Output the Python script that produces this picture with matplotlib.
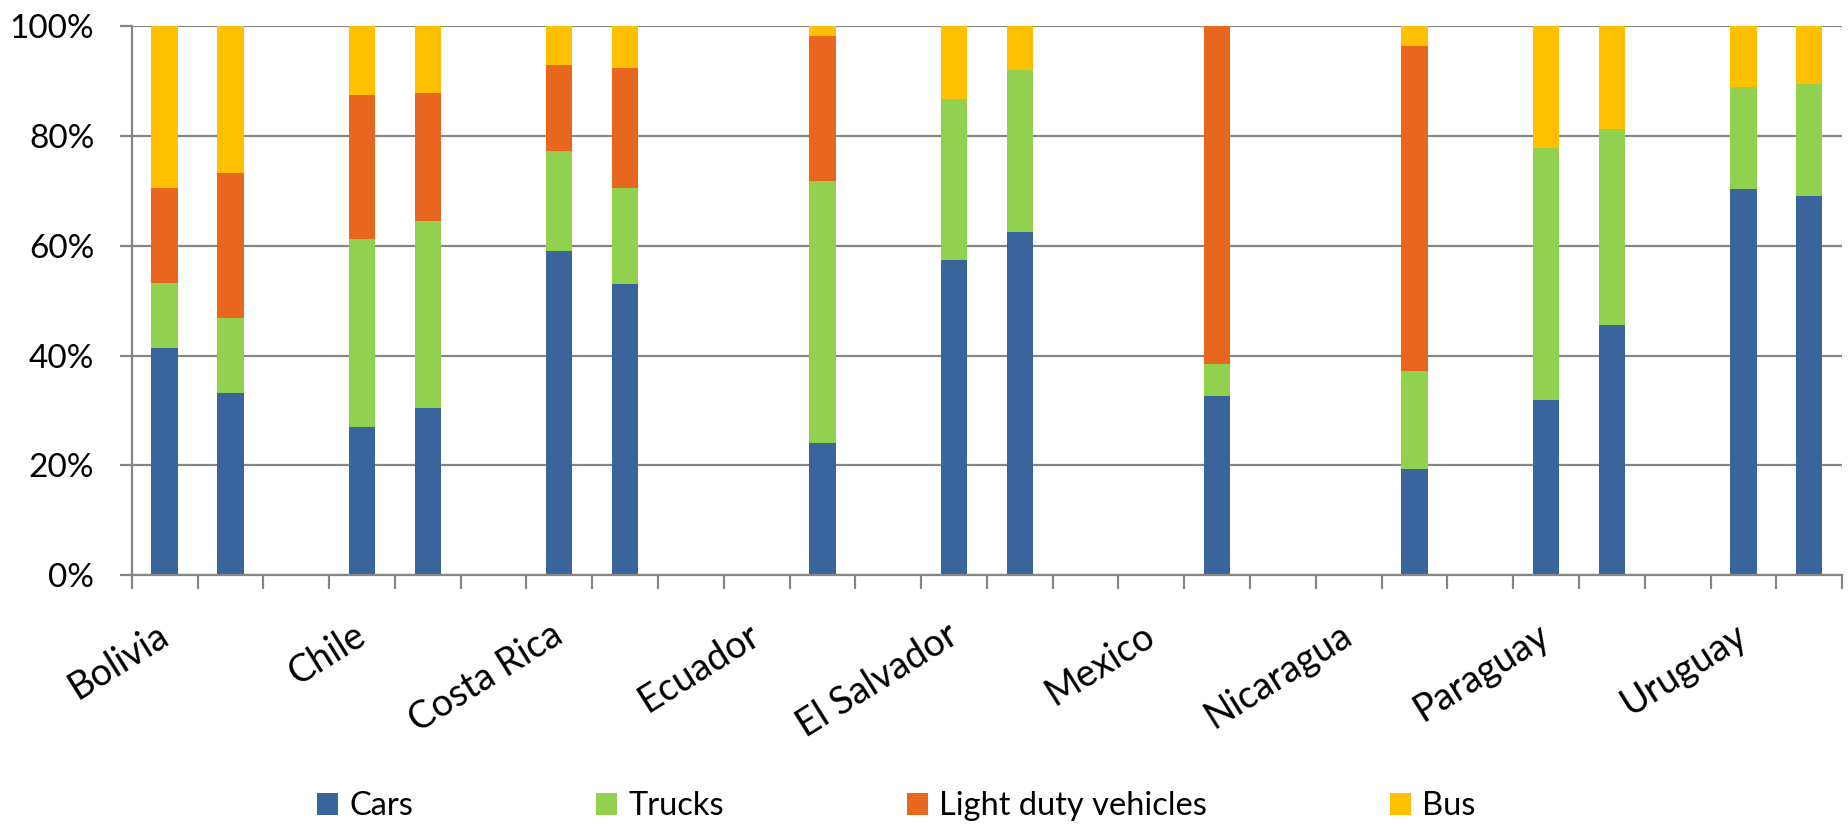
import numpy as np
import matplotlib
matplotlib.use("Agg")
import matplotlib.pyplot as plt
from matplotlib.ticker import FuncFormatter, FixedLocator
from matplotlib.transforms import ScaledTranslation

plt.rcParams['font.family'] = ['Lato', 'DejaVu Sans']

countries = ["Bolivia", "Chile", "Costa Rica", "Ecuador", "El Salvador",
             "Mexico", "Nicaragua", "Paraguay", "Uruguay"]
series_names = ["Cars", "Trucks", "Light duty vehicles", "Bus"]

# share of fleet (%) for two periods per country; None = no data
cars = [[41.3, 33.2], [27.0, 30.5], [59.0, 53.1], [None, 24.1], [57.5, 62.6],
        [None, 32.6], [None, 19.4], [31.9, 45.6], [70.4, 69.1]]
trucks = [[12.0, 13.6], [34.2, 34.0], [18.3, 17.4], [None, 47.7], [29.3, 29.5],
          [None, 5.9], [None, 17.7], [46.0, 35.7], [18.6, 20.4]]
light_duty = [[17.3, 26.5], [26.2, 23.4], [15.7, 22.0], [None, 26.5], [0.0, 0.0],
              [None, 61.5], [None, 59.3], [0.0, 0.0], [0.0, 0.0]]
bus = [[29.4, 26.7], [12.6, 12.1], [7.0, 7.5], [None, 1.7], [13.2, 7.9],
       [None, 0.0], [None, 3.6], [22.1, 18.7], [11.0, 10.5]]

colors = ["#3A649C", "#92D050", "#E9661E", "#FFC000"]
grid_color = "#868686"

fig = plt.figure(figsize=(18.48, 8.24), dpi=100)
ax = fig.add_axes([0.0713, 0.3022, 0.9255, 0.6658])

slots_per_country = 3
n_slots = slots_per_country * len(countries) - 1

positions, stacks = [], []
for i in range(len(countries)):
    for j in range(2):
        if cars[i][j] is None:
            continue
        positions.append(slots_per_country * i + j)
        stacks.append([cars[i][j], trucks[i][j], light_duty[i][j], bus[i][j]])
positions = np.array(positions)
stacks = np.array(stacks)

bottom = np.zeros(len(positions))
for k, name in enumerate(series_names):
    ax.bar(positions, stacks[:, k], width=0.4, bottom=bottom,
           color=colors[k], label=name, linewidth=0, zorder=3)
    bottom += stacks[:, k]

ax.set_xlim(-0.5, n_slots - 0.5)
ax.set_ylim(0, 100)
ax.set_axisbelow(True)

ax.set_yticks(np.arange(0, 101, 20))
ax.yaxis.set_major_formatter(FuncFormatter(lambda v, p: f"{v:.0f}%"))
ax.grid(axis='y', color=grid_color, linewidth=1.6, zorder=0)
ax.tick_params(axis='y', length=9, width=1.6, color=grid_color,
               labelsize=24, pad=18)

label_pos = [slots_per_country * i for i in range(len(countries))]
ax.set_xticks(label_pos)
ax.set_xticklabels(countries, rotation=32, ha='right', va='top', fontsize=27)
ax.xaxis.set_minor_locator(FixedLocator(np.arange(-0.5, n_slots, 1.0)))
ax.tick_params(axis='x', which='major', length=0, pad=30)
ax.tick_params(axis='x', which='minor', length=10, width=1.6, color=grid_color)
shift = ScaledTranslation(10 / 100, 0, fig.dpi_scale_trans)
for lbl in ax.get_xticklabels():
    lbl.set_transform(lbl.get_transform() + shift)

for side in ['top', 'right']:
    ax.spines[side].set_visible(False)
for side in ['left', 'bottom']:
    ax.spines[side].set_color(grid_color)
    ax.spines[side].set_linewidth(1.6)
    ax.spines[side].set_zorder(4)

fig.legend(loc='center', bbox_to_anchor=(0.485, 0.0215), ncol=4, frameon=False,
           fontsize=23.5, handlelength=0.65, handleheight=0.65,
           handletextpad=0.34, columnspacing=5.6)

fig.savefig("out.png", dpi=100)
